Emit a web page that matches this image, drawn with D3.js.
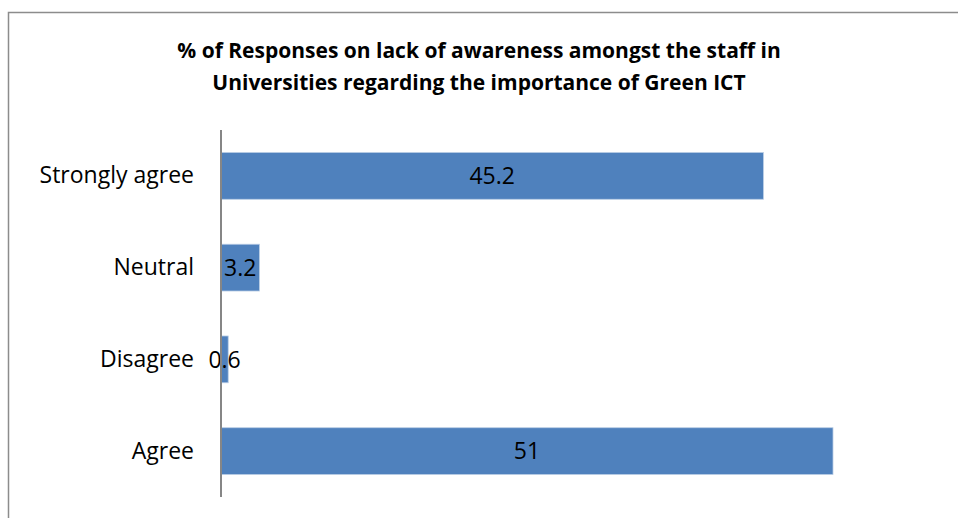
<!DOCTYPE html>
<html>
<head>
<meta charset="utf-8">
<script src="https://cdn.jsdelivr.net/npm/d3@7"></script>
<style>
  html, body { margin: 0; padding: 0; background: #fff; }
  svg { display: block; }
  text { font-family: "Open Sans", "Noto Sans", sans-serif; fill: #000; }
</style>
</head>
<body>
<svg id="chart" width="958" height="518"></svg>
<script>
// Response categories, listed top to bottom
const categories = ["Strongly agree", "Neutral", "Disagree", "Agree"];
// Percentage of responses per category
const values = [45.2, 3.2, 0.6, 51];
const titleLines = [
  "% of Responses on lack of awareness amongst the staff in",
  "Universities regarding the importance of Green ICT"
];

const svg = d3.select("#chart");
const W = 958, H = 518;

// Outer chart frame
svg.append("rect")
  .attr("x", 8.5).attr("y", 12.5)
  .attr("width", W + 20).attr("height", H + 20)
  .attr("fill", "#fff")
  .attr("stroke", "#8c8c8c")
  .attr("stroke-width", 1.5);

// Title
svg.append("g").selectAll("text")
  .data(titleLines)
  .join("text")
  .attr("x", 479)
  .attr("y", (d, i) => 58 + i * 32)
  .attr("text-anchor", "middle")
  .attr("font-weight", "bold")
  .attr("font-size", 21)
  .text(d => d);

const plot = { left: 221, top: 130, bottom: 497 };

const x = d3.scaleLinear().domain([0, 51]).range([plot.left, 833]);
const y = d3.scaleBand()
  .domain(categories)
  .range([plot.top, plot.bottom])
  .paddingInner(0.49)
  .paddingOuter(0.245);

// Bars
svg.append("g").selectAll("rect")
  .data(categories)
  .join("rect")
  .attr("x", x(0))
  .attr("y", d => y(d))
  .attr("width", (d, i) => x(values[i]) - x(0))
  .attr("height", y.bandwidth())
  .attr("fill", "#4f81bd")
  .attr("stroke", "#b9cde5")
  .attr("stroke-width", 0.8);

// Value labels centred in each bar
svg.append("g").selectAll("text")
  .data(categories)
  .join("text")
  .attr("x", (d, i) => (x(values[i]) + x(0)) / 2)
  .attr("y", d => y(d) + y.bandwidth() / 2)
  .attr("dy", "0.36em")
  .attr("text-anchor", "middle")
  .attr("font-size", 23)
  .text((d, i) => String(values[i]));

// Category axis
const axis = d3.axisLeft(y).tickSize(0).tickPadding(27);
const g = svg.append("g")
  .attr("transform", `translate(${plot.left},0)`)
  .call(axis);
g.select(".domain")
  .attr("stroke", "#868686")
  .attr("stroke-width", 2)
  .attr("d", `M0,${plot.top}V${plot.bottom}`);
g.selectAll(".tick text")
  .attr("font-size", 23)
  .attr("font-family", "\"Open Sans\", \"Noto Sans\", sans-serif")
  .attr("fill", "#000");
</script>
</body>
</html>
